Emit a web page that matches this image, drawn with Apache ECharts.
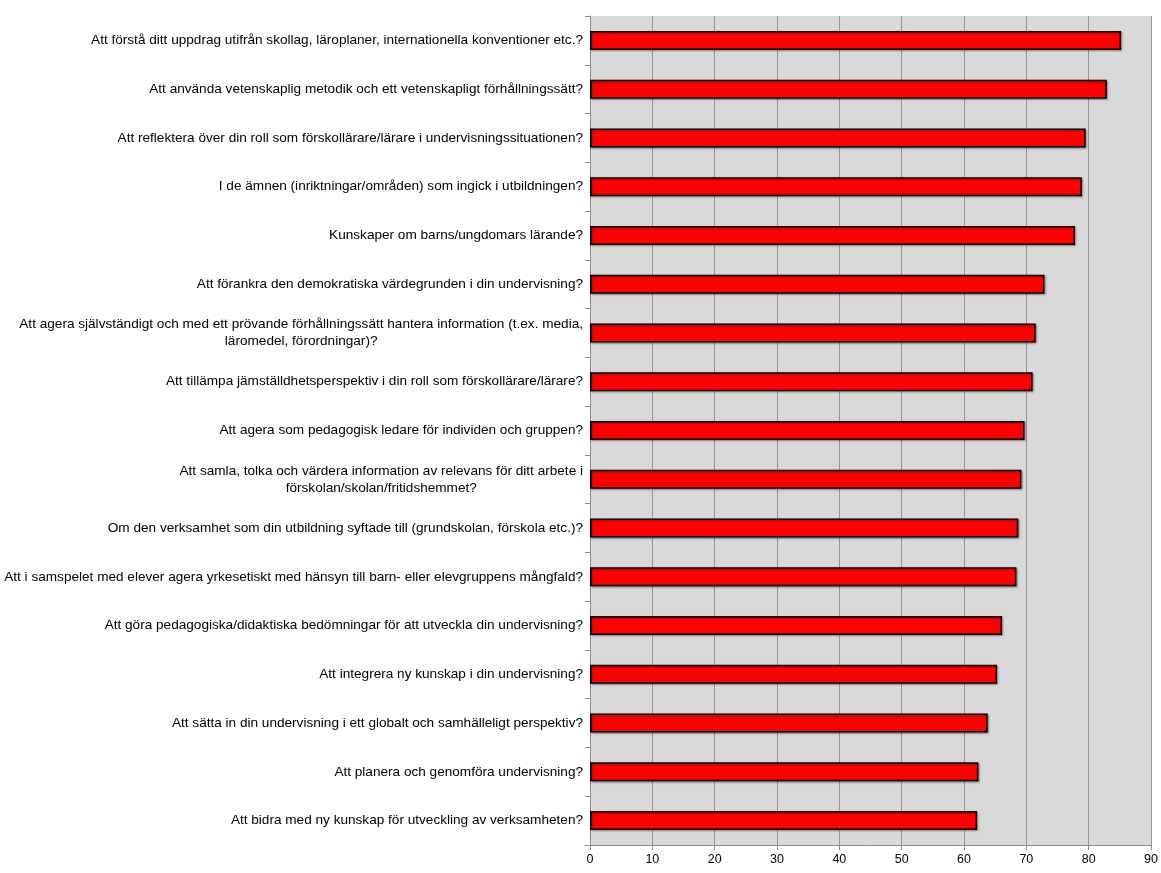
<!DOCTYPE html>
<html>
<head>
<meta charset="utf-8">
<script src="https://cdn.jsdelivr.net/npm/echarts@6/dist/echarts.min.js"></script>
<style>html,body{margin:0;padding:0;background:#fff}#c{width:1161px;height:873px}</style>
</head>
<body>
<div id="c"></div>
<script>
var categories = [
  "Att förstå ditt uppdrag utifrån skollag, läroplaner, internationella konventioner etc.?",
  "Att använda vetenskaplig metodik och ett vetenskapligt förhållningssätt?",
  "Att reflektera över din roll som förskollärare/lärare i undervisningssituationen?",
  "I de ämnen (inriktningar/områden) som ingick i utbildningen?",
  "Kunskaper om barns/ungdomars lärande?",
  "Att förankra den demokratiska värdegrunden i din undervisning?",
  "Att agera självständigt och med ett prövande förhållningssätt hantera information (t.ex. media,\nläromedel, förordningar)?",
  "Att tillämpa jämställdhetsperspektiv i din roll som förskollärare/lärare?",
  "Att agera som pedagogisk ledare för individen och gruppen?",
  "Att samla, tolka och värdera information av relevans för ditt arbete i\nförskolan/skolan/fritidshemmet?",
  "Om den verksamhet som din utbildning syftade till (grundskolan, förskola etc.)?",
  "Att i samspelet med elever agera yrkesetiskt med hänsyn till barn- eller elevgruppens mångfald?",
  "Att göra pedagogiska/didaktiska bedömningar för att utveckla din undervisning?",
  "Att integrera ny kunskap i din undervisning?",
  "Att sätta in din undervisning i ett globalt och samhälleligt perspektiv?",
  "Att planera och genomföra undervisning?",
  "Att bidra med ny kunskap för utveckling av verksamheten?"
];
var values = [85.2, 82.9, 79.5, 78.9, 77.8, 72.9, 71.5, 71.0, 69.7, 69.2, 68.7, 68.4, 66.1, 65.3, 63.8, 62.3, 62.1];
var xTicks = [0, 10, 20, 30, 40, 50, 60, 70, 80, 90];

var chart = echarts.init(document.getElementById('c'));
chart.setOption({
  animation: false,
  grid: {
    left: 590, right: 3, top: 16, bottom: 28,
    show: true, backgroundColor: '#d9d9d9', borderWidth: 0
  },
  xAxis: {
    type: 'value', min: 0, max: 90, interval: 10,
    axisLine: {show: true, lineStyle: {color: '#8c8c8c', width: 1}},
    axisTick: {show: true, length: 5, inside: false, lineStyle: {color: '#8c8c8c'}},
    splitLine: {show: true, lineStyle: {color: '#959595', width: 1}},
    axisLabel: {
      color: '#000', fontFamily: 'Liberation Sans', fontSize: 12.5, margin: 8,
      formatter: function (v) { return xTicks.indexOf(v) >= 0 ? String(v) : ''; }
    }
  },
  yAxis: {
    type: 'category', data: categories, inverse: true,
    axisLine: {show: true, lineStyle: {color: '#8c8c8c', width: 1}},
    axisTick: {show: true, length: 5, lineStyle: {color: '#8c8c8c'}},
    splitLine: {show: false},
    axisLabel: {
      color: '#000', fontFamily: 'Liberation Sans', fontSize: 13.6, margin: 7,
      lineHeight: 17,
      formatter: function (v) {
        return v.split('\n').map(function (l) { return '{c|' + l + '}'; }).join('\n');
      },
      rich: {c: {align: 'center', fontFamily: 'Liberation Sans', fontSize: 13.6, color: '#000', lineHeight: 17}}
    }
  },
  series: [{
    type: 'bar', data: values, barWidth: 19,
    itemStyle: {
      color: '#ff0000', borderColor: '#000', borderWidth: 1.5,
      shadowColor: 'rgba(0,0,0,0.35)', shadowBlur: 2, shadowOffsetX: 1, shadowOffsetY: 1
    }
  }]
});
</script>
</body>
</html>
